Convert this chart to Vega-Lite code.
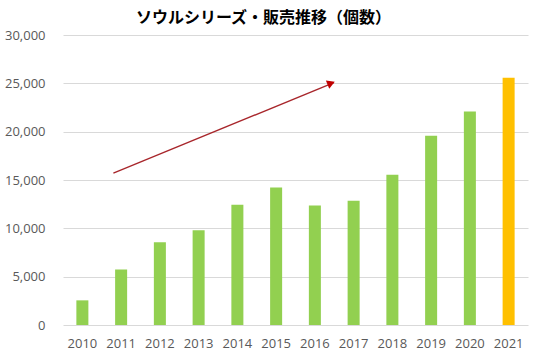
{
  "$schema": "https://vega.github.io/schema/vega-lite/v6.json",
  "width": 465,
  "height": 290,
  "autosize": {"type": "none"},
  "padding": {"left": 63, "top": 35, "right": 5, "bottom": 28},
  "background": "white",
  "config": {"view": {"stroke": null}, "font": "Open Sans"},
  "title": {
    "text": "ソウルシリーズ・販売推移（個数）",
    "font": "Noto Sans CJK JP",
    "fontSize": 16,
    "fontWeight": "bold",
    "color": "#000000",
    "dx": -32,
    "dy": 9,
    "offset": 12
  },
  "datasets": {
    "sales": [
      {"year": 2010, "count": 2550},
      {"year": 2011, "count": 5730},
      {"year": 2012, "count": 8550},
      {"year": 2013, "count": 9790},
      {"year": 2014, "count": 12440},
      {"year": 2015, "count": 14230},
      {"year": 2016, "count": 12370},
      {"year": 2017, "count": 12860},
      {"year": 2018, "count": 15540},
      {"year": 2019, "count": 19570},
      {"year": 2020, "count": 22080},
      {"year": 2021, "count": 25590}
    ],
    "arrow": [
      {"pos": 1.3, "value": 15720},
      {"pos": 6.99, "value": 25070}
    ],
    "head": [
      {"pos": 6.92, "value": 25020}
    ]
  },
  "layer": [
    {
      "data": {"name": "sales"},
      "mark": {"type": "bar", "color": "#92D050"},
      "encoding": {
        "x": {
          "field": "year",
          "type": "ordinal",
          "scale": {"paddingInner": 0.69, "paddingOuter": 0.345},
          "axis": {
            "title": null,
            "labelAngle": 0,
            "labelFontSize": 13,
            "labelColor": "#595959",
            "ticks": false,
            "domain": false,
            "labelPadding": 12
          }
        },
        "y": {
          "field": "count",
          "type": "quantitative",
          "scale": {"domain": [0, 30000]},
          "axis": {
            "title": null,
            "values": [0, 5000, 10000, 15000, 20000, 25000, 30000],
            "format": ",.0f",
            "labelFontSize": 13,
            "labelColor": "#595959",
            "gridColor": "#d9d9d9",
            "domain": false,
            "ticks": false,
            "labelPadding": 18
          }
        },
        "color": {
          "condition": {"test": "datum.year === 2021", "value": "#FFC000"},
          "value": "#92D050"
        }
      }
    },
    {
      "data": {"name": "arrow"},
      "mark": {"type": "line", "color": "#A8262B", "strokeWidth": 1.4},
      "encoding": {
        "x": {"field": "pos", "type": "quantitative", "scale": {"domain": [0, 12]}, "axis": null},
        "y": {"field": "value", "type": "quantitative"}
      }
    },
    {
      "data": {"name": "head"},
      "mark": {"type": "point", "shape": "triangle-right", "filled": true, "opacity": 1, "color": "#C00000", "size": 80, "angle": -22},
      "encoding": {
        "x": {"field": "pos", "type": "quantitative", "scale": {"domain": [0, 12]}, "axis": null},
        "y": {"field": "value", "type": "quantitative"}
      }
    }
  ],
  "resolve": {"scale": {"x": "independent"}}
}
